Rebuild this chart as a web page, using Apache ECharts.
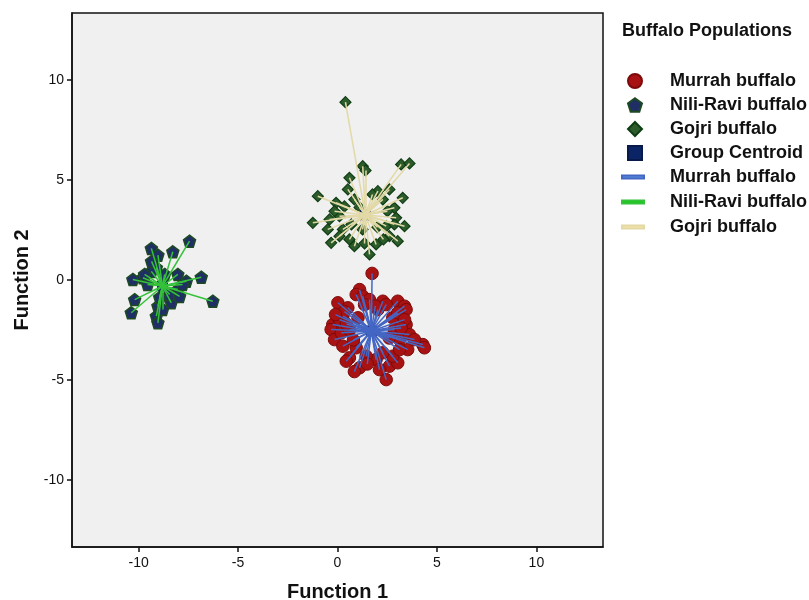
<!DOCTYPE html>
<html>
<head>
<meta charset="utf-8">
<script src="https://cdn.jsdelivr.net/npm/echarts@6/dist/echarts.min.js"></script>
<style>html,body{margin:0;padding:0;background:#fff;}#c{width:809px;height:600px;}</style>
</head>
<body>
<div id="c"></div>
<script>
// ---- data (Function 1, Function 2) ----
const xTicks = [-10, -5, 0, 5, 10];
const yTicks = [-10, -5, 0, 5, 10];

const murrahPoints = [
  [1.74,0.33],[1.11,-0.48],[0.94,-0.73],[0.02,-1.14],[0.52,-1.39],[2.28,-1.06],[3.03,-1.06],[3.37,-1.31],
  [3.45,-1.48],[-0.24,-2.23],[-0.32,-2.48],[3.45,-2.23],[4.29,-3.23],[4.37,-3.39],[-0.15,-2.98],[0.27,-3.31],
  [0.60,-3.89],[0.44,-4.06],[1.11,-4.39],[2.45,-4.98],[2.61,-4.31],[3.03,-4.14],[3.53,-3.48],[1.94,-3.98],
  [1.44,-3.81],[1.27,-0.81],[2.03,-1.48],[2.78,-1.89],[3.03,-1.64],[2.45,-1.23],[0.27,-1.81],[1.03,-1.89],
  [0.19,-2.64],[3.12,-2.98],[2.78,-3.81],[3.62,-2.73],[0.94,-3.39],[2.28,-3.64],[0.60,-2.48],[2.86,-2.48],
  [1.61,-0.98],[0.10,-1.98],[2.11,-4.48],[0.85,-4.58],[3.12,-3.48],[3.87,-2.98],[0.35,-1.58],[1.36,-1.23],
  [3.37,-1.98],[-0.10,-1.73],[1.90,-1.30],[2.60,-2.90],[0.80,-3.00],[1.50,-4.20],[3.20,-2.40],[0.45,-2.20]
];
const niliPoints = [
  [-7.44,1.94],[-9.36,1.58],[-9.03,1.24],[-8.28,1.41],[-9.11,0.61],[-8.03,0.28],[-6.85,0.14],[-7.60,-0.06],
  [-10.29,0.03],[-9.78,0.11],[-8.03,-0.48],[-6.27,-1.06],[-10.20,-0.98],[-10.37,-1.64],[-9.03,-1.31],[-8.36,-1.14],
  [-9.11,-1.81],[-9.03,-2.14],[-9.36,0.43],[-8.69,0.28],[-9.55,-0.22],[-8.44,-0.72],[-7.94,-0.82],[-8.94,-0.87],
  [-8.79,-1.47],[-9.70,0.28],[-7.79,-0.22],[-9.35,0.93]
];
const gojriPoints = [
  [0.40,8.89],[1.27,5.69],[1.41,5.48],[3.20,5.78],[3.62,5.83],[0.60,5.11],[-0.99,4.19],[0.52,4.53],
  [2.03,4.44],[2.61,4.53],[3.28,4.11],[-0.07,3.86],[2.86,3.61],[-1.24,2.86],[-0.49,2.53],[-0.32,1.86],
  [0.60,2.03],[0.85,1.69],[1.61,1.28],[1.94,1.78],[2.61,2.19],[3.03,1.94],[3.37,2.69],[2.95,3.11],
  [0.10,3.19],[-0.15,3.44],[0.27,2.53],[1.26,2.53],[2.45,2.69],[2.28,4.03],[1.76,4.28],[0.10,2.19],
  [0.85,4.03],[0.35,3.68],[2.51,3.44],[2.01,2.64],[1.36,1.83],[0.70,2.78],[2.86,2.78],[-0.40,3.03],
  [2.31,2.03],[1.11,3.63]
];
const centroids = [[1.70,-2.55],[-8.80,-0.30],[1.40,3.25]];

const groupNames = ['Murrah buffalo', 'Nili-Ravi buffalo', 'Gojri buffalo'];
const centroidName = 'Group Centroid';
const lineNames = ['Murrah buffalo ', 'Nili-Ravi buffalo ', 'Gojri buffalo '];

// ---- styles ----
const FONT = '"Liberation Sans", Arial, sans-serif';
const pentagon = 'path://M0,-1 L0.951,-0.309 L0.588,0.809 L-0.588,0.809 L-0.951,-0.309 Z';

function spokes(points, c) {
  return points.map(p => ({ coords: [c, p] }));
}

const chart = echarts.init(document.getElementById('c'), null, { renderer: 'canvas' });
chart.setOption({
  animation: false,
  backgroundColor: '#ffffff',
  title: {
    text: 'Buffalo Populations', left: 617, top: 17,
    textStyle: { fontFamily: FONT, fontSize: 18, fontWeight: 'bold', color: '#111' }
  },
  grid: {
    left: 72, top: 13, width: 531, height: 534, show: true,
    containLabel: false, outerBoundsMode: 'none',
    backgroundColor: '#f0f0f0', borderColor: '#111', borderWidth: 1.5
  },
  xAxis: {
    type: 'value', min: -13.35, max: 13.35,
    name: 'Function 1', nameLocation: 'middle', nameGap: 35,
    nameTextStyle: { fontFamily: FONT, fontSize: 20, fontWeight: 'bold', color: '#111' },
    axisLine: { show: true, onZero: false, lineStyle: { color: '#111', width: 1.5 } },
    axisTick: { show: true, length: 5, lineStyle: { color: '#111', width: 1.5 }, customValues: xTicks },
    axisLabel: { fontFamily: FONT, fontSize: 14, color: '#111', margin: 9, customValues: xTicks },
    splitLine: { show: false }
  },
  yAxis: {
    type: 'value', min: -13.35, max: 13.35,
    name: 'Function 2', nameLocation: 'middle', nameGap: 36,
    nameTextStyle: { fontFamily: FONT, fontSize: 20, fontWeight: 'bold', color: '#111' },
    axisLine: { show: true, onZero: false, lineStyle: { color: '#111', width: 1.5 } },
    axisTick: { show: true, length: 5, lineStyle: { color: '#111', width: 1.5 }, customValues: yTicks },
    axisLabel: { fontFamily: FONT, fontSize: 14, color: '#111', margin: 8, customValues: yTicks },
    splitLine: { show: false }
  },
  legend: [
    {
      orient: 'vertical', left: 622, top: 67, itemWidth: 14, itemHeight: 14, itemGap: 6,
      selectedMode: false,
      textStyle: { fontFamily: FONT, fontSize: 18, fontWeight: 'bold', color: '#111', lineHeight: 16, padding: [0, 0, 0, 23] },
      data: [
        { name: groupNames[0], icon: 'circle' },
        { name: groupNames[1], icon: pentagon },
        { name: groupNames[2], icon: 'diamond' },
        { name: centroidName, icon: 'rect' }
      ]
    },
    {
      orient: 'vertical', left: 616, top: 163, itemWidth: 22, itemHeight: 3, itemGap: 7,
      selectedMode: false,
      textStyle: { fontFamily: FONT, fontSize: 18, fontWeight: 'bold', color: '#111', lineHeight: 16, padding: [0, 0, 0, 21] },
      data: [
        { name: lineNames[0], icon: 'rect', itemStyle: { color: '#5b8ede' } },
        { name: lineNames[1], icon: 'rect', itemStyle: { color: '#16cc16' } },
        { name: lineNames[2], icon: 'rect', itemStyle: { color: '#f7e2a4' } }
      ]
    }
  ],
  series: [
    {
      name: groupNames[0], type: 'scatter', data: murrahPoints, symbol: 'circle', symbolSize: 12.5, z: 2,
      itemStyle: { color: '#a81212', borderColor: '#7c0a0a', borderWidth: 1, opacity: 1 }
    },
    {
      name: groupNames[1], type: 'scatter', data: niliPoints, symbol: pentagon, symbolSize: 12, z: 2,
      itemStyle: { color: '#1f2f66', borderColor: '#1d4a22', borderWidth: 1.5, opacity: 1 }
    },
    {
      name: groupNames[2], type: 'scatter', data: gojriPoints, symbol: 'diamond', symbolSize: 11, z: 2,
      itemStyle: { color: '#2c5c2c', borderColor: '#0f3d12', borderWidth: 1.2, opacity: 1 }
    },
    {
      name: centroidName, type: 'scatter', data: centroids, symbol: 'rect', symbolSize: 10, z: 3,
      itemStyle: { color: '#0b2466', borderColor: '#081a4a', borderWidth: 1, opacity: 1 }
    },
    {
      name: lineNames[0], type: 'lines', coordinateSystem: 'cartesian2d', z: 4,
      data: spokes(murrahPoints, centroids[0]),
      lineStyle: { color: '#4466c4', width: 1.5, opacity: 1 }
    },
    {
      name: lineNames[1], type: 'lines', coordinateSystem: 'cartesian2d', z: 4,
      data: spokes(niliPoints, centroids[1]),
      lineStyle: { color: '#35c23a', width: 1.5, opacity: 1 }
    },
    {
      name: lineNames[2], type: 'lines', coordinateSystem: 'cartesian2d', z: 4,
      data: spokes(gojriPoints, centroids[2]),
      lineStyle: { color: '#e2d9a6', width: 1.5, opacity: 1 }
    }
  ]
});
</script>
</body>
</html>
